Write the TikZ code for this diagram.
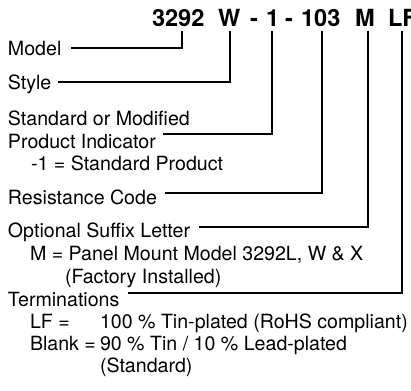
\documentclass[tikz,border=0pt]{standalone}
\usepackage{fontspec}
\setmainfont{TeX Gyre Heros}
\begin{document}
\begin{tikzpicture}[x=0.5pt, y=-0.5pt,
            every node/.style = {inner sep=0pt, outer sep=0pt},
            codepart/.style = {anchor=base west,
                               font=\fontsize{11.8}{13}\selectfont\bfseries},
            partname/.style = {anchor=base west,
                               font=\fontsize{9.8}{11}\selectfont},
            leader/.style = {draw=black, line width=0.6pt}]
    \useasboundingbox (0,0) rectangle (411,390);
    % part number
    \node[codepart] (c3292) at (152,27) {3292};
    \node[codepart] (cW)    at (218,27) {W};
    \node[codepart] (dashA) at (250,27) {-};
    \node[codepart] (c1)    at (266,27) {1};
    \node[codepart] (dashB) at (285,27) {-};
    \node[codepart] (c103)  at (301,27) {103};
    \node[codepart] (cM)    at (355,27) {M};
    \node[codepart] (cLF)   at (388,27) {LF};
    % tops of the leaders
    \coordinate (t3292) at (182,31);
    \coordinate (tW)    at (230,31);
    \coordinate (t1)    at (272,31);
    \coordinate (t103)  at (322,31);
    \coordinate (tM)    at (368,31);
    \coordinate (tLF)   at (402,31);
    % descriptions
    \node[partname] (model)   at (8,55)  {Model};
    \node[partname] (style)   at (8,90)  {Style};
    \node[partname] (stdA)    at (8,125) {Standard or Modified};
    \node[partname] (stdB)    at (8,148) {Product Indicator};
    \node[partname] (stdC)    at (31,170) {-1 = Standard Product};
    \node[partname] (resist)  at (8,204) {Resistance Code};
    \node[partname] (suffixA) at (8,237) {Optional Suffix Letter};
    \node[partname] (suffixB) at (30,260) {M = Panel Mount Model 3292L, W \& X};
    \node[partname] (suffixC) at (65,283) {(Factory Installed)};
    \node[partname] (term)    at (8,306) {Terminations};
    \node[partname] (lfKey)   at (30,328) {LF =};
    \node[partname] (lfVal)   at (100,328) {100 \% Tin-plated (RoHS compliant)};
    \node[partname] (blKey)   at (30,350) {Blank =};
    \node[partname] (blVal)   at (100,350) {90 \% Tin / 10 \% Lead-plated};
    \node[partname] (blStd)   at (100,372) {(Standard)};
    % leaders
    \draw[leader] (model.base east) ++(10,-7) -| (t3292);
    \draw[leader] (style.base east) ++(7,-8) -| (tW);
    \draw[leader] (stdB.base east) ++(7,-14) -| (t1);
    \draw[leader] (resist.base east) ++(8,-11) -| (t103);
    \draw[leader] (suffixA.base east) ++(9,-10) -| (tM);
    \draw[leader] (term.base east) ++(9,-13) -| (tLF);
\end{tikzpicture}
\end{document}
